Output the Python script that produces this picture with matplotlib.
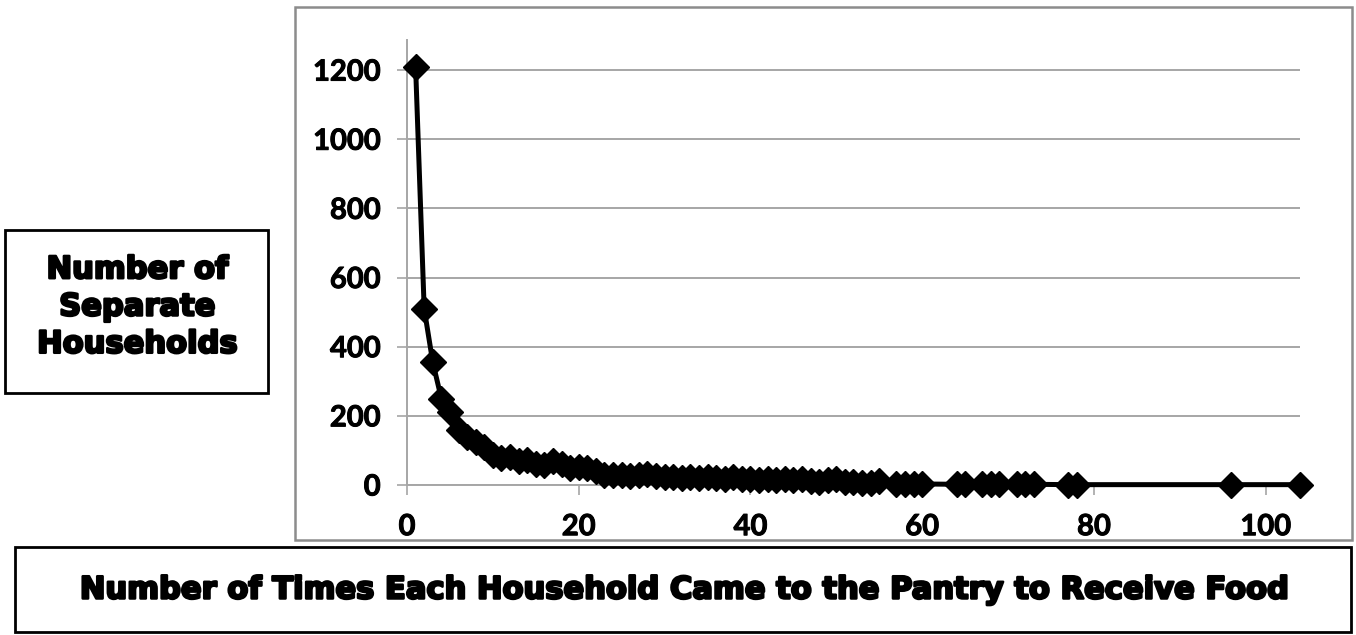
import matplotlib
matplotlib.use("Agg")
import matplotlib.pyplot as plt
from matplotlib.patches import Rectangle
import matplotlib.patheffects as pe

# visits per household -> number of separate households
visits = [1, 2, 3, 4, 5, 6, 7, 8, 9, 10,
          11, 12, 13, 14, 15, 16, 17, 18, 19, 20,
          21, 22, 23, 24, 25, 26, 27, 28, 29, 30,
          31, 32, 33, 34, 35, 36, 37, 38, 39, 40,
          41, 42, 43, 44, 45, 46, 47, 48, 49, 50,
          51, 52, 53, 54, 55, 57, 58, 59, 60,
          64, 65, 67, 68, 69, 71, 72, 73, 77, 78, 96, 104]
households = [1210, 510, 355, 250, 210, 160, 140, 125, 110, 88,
              78, 80, 68, 72, 62, 58, 68, 60, 48, 52,
              50, 40, 30, 28, 30, 26, 30, 32, 26, 22,
              24, 20, 22, 20, 24, 20, 18, 22, 18, 16,
              14, 16, 14, 16, 14, 16, 12, 10, 14, 16,
              10, 8, 6, 6, 12, 4, 4, 4, 3,
              2, 2, 2, 2, 2, 2, 2, 2, 1, 1, 1, 1]

x_ticks = [0, 20, 40, 60, 80, 100]
y_ticks = [0, 200, 400, 600, 800, 1000, 1200]
y_title = "Number of\nSeparate\nHouseholds"
x_title = "Number of Times Each Household Came to the Pantry to Receive Food"

W, H = 1356, 635
fig = plt.figure(figsize=(W / 100, H / 100), dpi=100)

def fx(px):
    return px / W

def fy(py):
    return 1 - py / H

grid_col = "#a6a6a6"
heavy = [pe.withStroke(linewidth=1.8, foreground="black")]

# chart area border
fig.add_artist(Rectangle((fx(295), fy(540)), fx(1352) - fx(295), fy(7) - fy(540),
                         transform=fig.transFigure, fill=False,
                         edgecolor="#8c8c8c", linewidth=1.8))

ax = fig.add_axes([fx(407), fy(485), fx(1300) - fx(407), fy(40) - fy(485)])
ax.plot(visits, households, color="black", linewidth=3.6,
        marker="D", markersize=13.5, markerfacecolor="black",
        markeredgecolor="black", clip_on=False, zorder=3)

ax.set_xlim(0, 104)
ax.set_ylim(0, 1287)
ax.set_xticks(x_ticks)
ax.set_yticks(y_ticks)
ax.grid(axis="y", color=grid_col, linewidth=1.4)
ax.set_axisbelow(True)
for s in ["top", "right"]:
    ax.spines[s].set_visible(False)
for s in ["left", "bottom"]:
    ax.spines[s].set_color(grid_col)
    ax.spines[s].set_linewidth(1.4)
ax.tick_params(direction="out", length=7, width=1.2, color=grid_col,
               labelsize=21)
ax.tick_params(axis="y", pad=12)
ax.tick_params(axis="x", pad=14)
for lab in ax.get_xticklabels() + ax.get_yticklabels():
    lab.set_fontfamily("Lato")
    lab.set_fontweight("bold")
    lab.set_path_effects([pe.withStroke(linewidth=0.7, foreground="black")])

# y title box
fig.add_artist(Rectangle((fx(5), fy(393)), fx(268) - fx(5), fy(230) - fy(393),
                         transform=fig.transFigure, fill=False,
                         edgecolor="black", linewidth=2))
fig.text(fx(137), fy(307), y_title, ha="center", va="center",
         fontsize=22, fontfamily="DejaVu Sans", fontweight="bold",
         linespacing=1.36, path_effects=heavy)

# x title box
fig.add_artist(Rectangle((fx(15), fy(632)), fx(1351) - fx(15), fy(547) - fy(632),
                         transform=fig.transFigure, fill=False,
                         edgecolor="black", linewidth=2))
fig.text(fx(682), fy(590), x_title, ha="center", va="center",
         fontsize=22, fontfamily="DejaVu Sans", fontweight="bold",
         path_effects=heavy)

fig.savefig("out.png", dpi=100)
